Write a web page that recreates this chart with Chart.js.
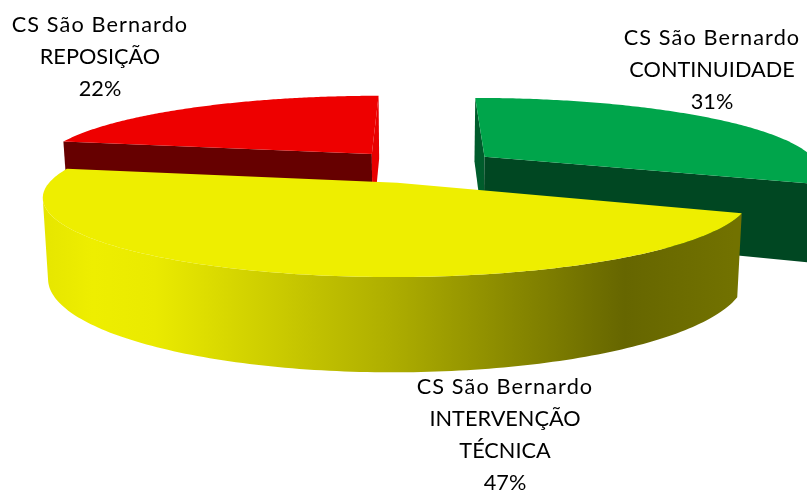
<!DOCTYPE html>
<html lang="pt">
<head>
<meta charset="utf-8">
<title>CS São Bernardo</title>
<script src="https://cdn.jsdelivr.net/npm/chart.js@4"></script>
<style>
    html, body { margin: 0; background: #fff; }
    canvas { display: block; }
</style>
</head>
<body>
<canvas id="chartPizza" width="807" height="495"></canvas>
<script>
const categorias = ['CONTINUIDADE', 'INTERVENÇÃO TÉCNICA', 'REPOSIÇÃO'];
const valores = [31, 47, 22];
const unidade = 'CS São Bernardo';

// linhas de cada rotulo e onde ficam
const linhasCategoria = [['CONTINUIDADE'], ['INTERVENÇÃO', 'TÉCNICA'], ['REPOSIÇÃO']];
const posRotulos = [[712, 38], [505, 387], [100, 25]];

const coresTopo = ['#00a54b', '#eeee00', '#ee0000'];
const coresCorteInicio = ['#005c2c', '#666600', '#660000'];
const coresCorteFim = ['#004722', '#c8c800', '#e80000'];
const coresBorda = ['#004722', null, '#660000'];
const afastamento = [48, 46, 46];

// projecao da pizza deitada
const vista = { cx: 419.5, cy: 166.3, a: 335, b: 71.9, h: 75.5, k: 0.17, encolhe: 0.014 };

const projetar = (u, v, z) => {
    const d = 1 - vista.k * v;
    const s = 1 - vista.encolhe * z;
    return [vista.cx + vista.a * u / d * s, vista.cy + (vista.b * v + vista.h * z) / d];
}

// parede so aparece se a normal aponta para o olho
const visivel = (pu, pv, nu, nv) => (0 - pu) * nu + (1 / vista.k - pv) * nv > 0;

const caminho = (ctx, pontos, cor) => {
    ctx.beginPath();
    pontos.forEach((p, i) => i ? ctx.lineTo(p[0], p[1]) : ctx.moveTo(p[0], p[1]));
    ctx.closePath();
    ctx.fillStyle = cor;
    ctx.fill();
}

const gradienteAmarelo = (ctx) => {
    const g = ctx.createLinearGradient(45, 0, 735, 0);
    g.addColorStop(0, '#e6e600');
    g.addColorStop(0.07, '#eeee00');
    g.addColorStop(0.16, '#eaea00');
    g.addColorStop(0.5, '#aeae00');
    g.addColorStop(0.84, '#666600');
    g.addColorStop(1, '#727200');
    return g;
}

const desenharFatia = (ctx, arco, i) => {
    const a0 = arco.startAngle;
    const a1 = arco.endAngle;
    const meio = (a0 + a1) / 2;
    const e = arco.options.offset / arco.outerRadius;
    const ou = Math.cos(meio) * e;
    const ov = Math.sin(meio) * e;

    const borda = (a, z) => projetar(ou + Math.cos(a), ov + Math.sin(a), z);
    const centro = (z) => projetar(ou, ov, z);

    const angulos = [];
    for (let n = 0; n <= 160; n++) {
        angulos.push(a0 + (a1 - a0) * n / 160);
    }

    // lateral curva, so a parte virada para frente
    const frente = angulos.filter(a => visivel(ou + Math.cos(a), ov + Math.sin(a), Math.cos(a), Math.sin(a)));
    if (frente.length > 1) {
        const cima = frente.map(a => borda(a, 0));
        const baixo = frente.map(a => borda(a, 1)).reverse();
        caminho(ctx, [...cima, ...baixo], coresBorda[i] || gradienteAmarelo(ctx));
    }

    if (visivel(ou, ov, Math.sin(a0), -Math.cos(a0))) {
        caminho(ctx, [centro(0), borda(a0, 0), borda(a0, 1), centro(1)], coresCorteInicio[i]);
    }
    if (visivel(ou, ov, -Math.sin(a1), Math.cos(a1))) {
        caminho(ctx, [centro(0), borda(a1, 0), borda(a1, 1), centro(1)], coresCorteFim[i]);
    }

    caminho(ctx, [centro(0), ...angulos.map(a => borda(a, 0))], coresTopo[i]);
}

const pizza3d = {
    id: 'pizza3d',
    beforeDatasetDraw(chart, args) {
        const ctx = chart.ctx;
        const arcos = args.meta.data
            .map((arco, i) => ({ arco, i }))
            .sort((p, q) => Math.sin((p.arco.startAngle + p.arco.endAngle) / 2) - Math.sin((q.arco.startAngle + q.arco.endAngle) / 2));

        ctx.save();
        arcos.forEach(({ arco, i }) => desenharFatia(ctx, arco, i));
        ctx.restore();
        return false;
    },
    afterDraw(chart) {
        const ctx = chart.ctx;
        ctx.save();
        ctx.font = '21.7px Lato';
        ctx.fillStyle = '#000';
        ctx.textAlign = 'center';
        ctx.textBaseline = 'middle';
        valores.forEach((valor, i) => {
            const linhas = [unidade, ...linhasCategoria[i], `${valor}%`];
            linhas.forEach((linha, n) => {
                ctx.letterSpacing = n === 0 ? '1.1px' : '0px';
                ctx.fillText(linha, posRotulos[i][0], posRotulos[i][1] + n * 32);
            });
        });
        ctx.restore();
    }
}

const chartPizza = new Chart(document.getElementById('chartPizza'), {
    type: 'pie',
    data: {
        labels: categorias.map(c => `${unidade} ${c}`),
        datasets: [
            {
                data: valores,
                backgroundColor: coresTopo,
                borderWidth: 0,
                offset: afastamento
            }
        ]
    },
    options: {
        responsive: false,
        animation: false,
        radius: 200,
        plugins: {
            legend: { display: false },
            tooltip: { enabled: false }
        }
    },
    plugins: [pizza3d]
});
</script>
</body>
</html>
